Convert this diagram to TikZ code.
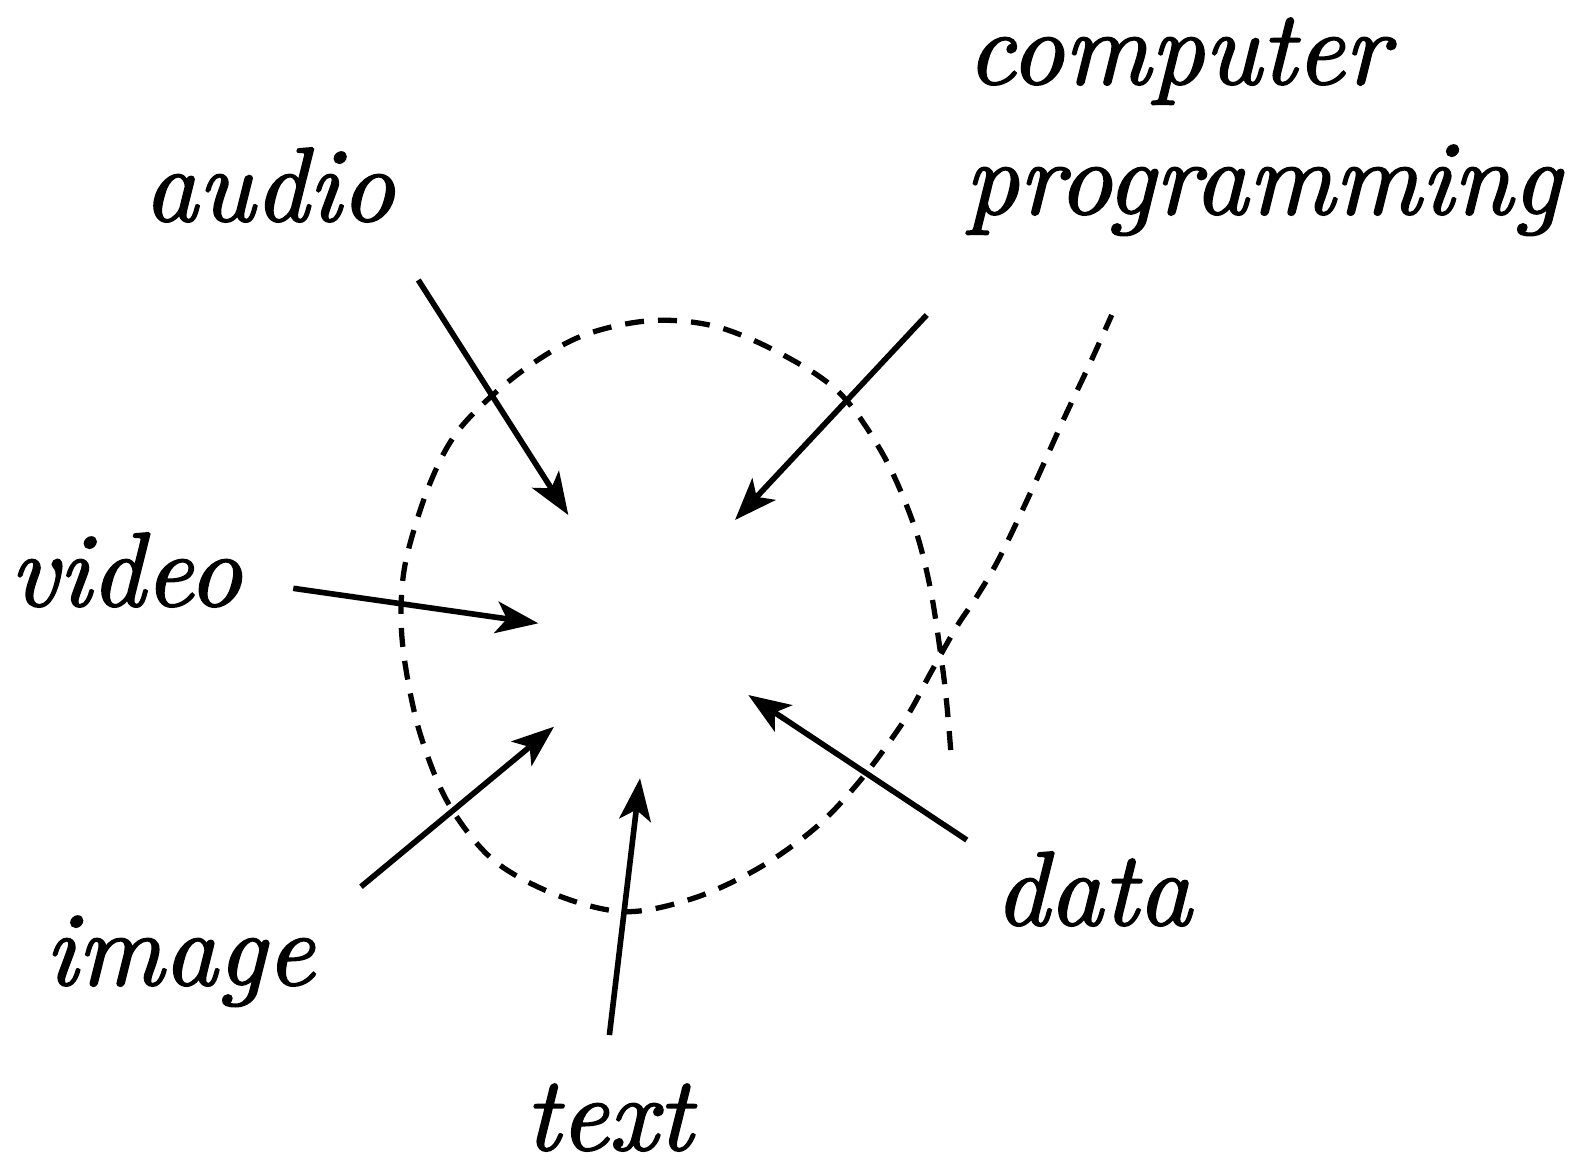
\documentclass[tikz,border=0pt]{standalone}
\usepackage{fontspec}
\usetikzlibrary{arrows.meta}
% heavier italic for the labels
\newfontfamily\lblfont{lmroman10-italic.otf}[FakeBold=1.6]
\begin{document}
\begin{tikzpicture}[x=0.01cm, y=-0.01cm,
  lbl/.style={inner sep=0pt, anchor=base west, font=\fontsize{30}{36}\selectfont\lblfont},
  feed/.style={line width=1.6pt, -{Stealth[length=12pt, width=9pt, inset=3pt]}},
  rim/.style={line width=1.5pt, dash pattern=on 5.4pt off 4pt}]
  \useasboundingbox (0,0) rectangle (1585,1169);

  % labels
  \node[lbl] (computer) at (966,84) {computer};
  \node[lbl] (programming) at (964,214) {programming};
  \node[lbl] (audio) at (143,221) {audio};
  \node[lbl] (video) at (9,606) {video};
  \node[lbl] (image) at (44,985) {image};
  \node[lbl] (text) at (524,1150) {text};
  \node[lbl] (data) at (994,925) {data};

  % dashed loop: the tail ends inside, the other end runs out to the upper right
  \draw[rim] plot[smooth, tension=0.55] coordinates {
    (950.7,750) (946.7,703.3) (941.5,660) (930,586.7) (913.3,523.3)
    (883.3,455) (840,393.3) (783.3,355) (716.7,326.7) (650,320.7)
    (580,336.7) (516.7,375) (460,428.3) (430,483.3) (406.7,556.7)
    (401,610) (405,663.3) (420,733.3) (448.3,803.3) (493.3,860)
    (556.7,895) (625,911.7) (693.3,898.3) (758.3,868.3) (816.7,826.7)
    (863.3,776.7) (906.7,716.7) (930,674) (956.7,626.7) (976.7,596.7)
    (1000,556.7) (1033.3,486.7) (1063.3,420) (1090,363.3) (1111.7,315)};

  % arrow ends
  \coordinate (a0) at (418.3,280);   \coordinate (a1) at (568.3,515);
  \coordinate (c0) at (926.7,315);   \coordinate (c1) at (735,520);
  \coordinate (v0) at (293.3,588.3); \coordinate (v1) at (538.3,623.3);
  \coordinate (i0) at (361,886.7);   \coordinate (i1) at (554,726.7);
  \coordinate (t0) at (609.4,1035);  \coordinate (t1) at (640,778.3);
  \coordinate (d0) at (966.8,840);   \coordinate (d1) at (748.3,695);

  \draw[feed] (a0) -- (a1);
  \draw[feed] (c0) -- (c1);
  \draw[feed] (v0) -- (v1);
  \draw[feed] (i0) -- (i1);
  \draw[feed] (t0) -- (t1);
  \draw[feed] (d0) -- (d1);
\end{tikzpicture}
\end{document}
